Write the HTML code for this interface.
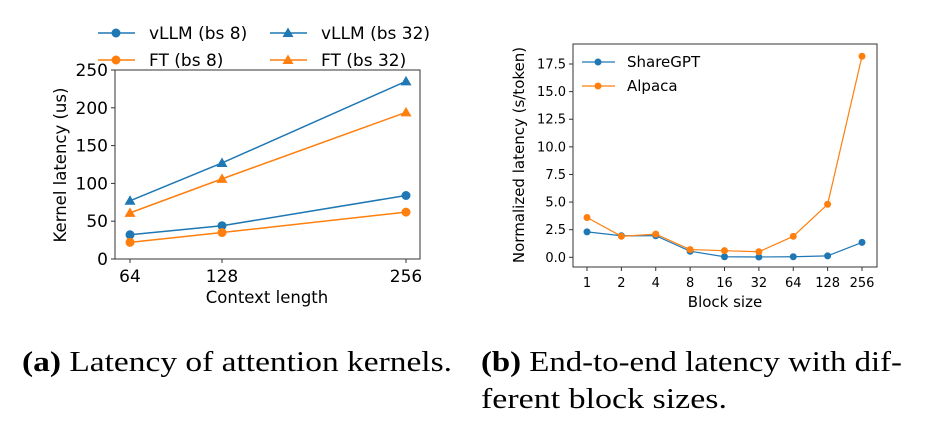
<!DOCTYPE html>
<html><head><meta charset="utf-8"><style>
body{margin:0;background:#fff;}
svg{display:block;}
text{font-family:"DejaVu Sans","Liberation Sans",sans-serif;fill:#000;}
.cap{font-family:"Liberation Serif",serif;font-size:29px;}
</style></head><body>
<svg id="svg" width="925" height="427" viewBox="0 0 925 427"></svg>
<script>
const ctxLen=[64,128,256];
const vllm8=[32,44,84];
const ft8=[22,35,62];
const vllm32=[77,127,235];
const ft32=[61,106,194];
const yTicksA=[0,50,100,150,200,250];
const blockSizes=["1","2","4","8","16","32","64","128","256"];
const shareGPT=[2.3,1.95,1.95,0.55,0.05,0.03,0.05,0.13,1.35];
const alpaca=[3.6,1.9,2.1,0.7,0.6,0.5,1.9,4.8,18.2];
const yTicksB=[0,2.5,5,7.5,10,12.5,15,17.5];

const svg=document.getElementById('svg');
const NS="http://www.w3.org/2000/svg";
function mk(tag,attrs,parent){const e=document.createElementNS(NS,tag);for(const k in attrs)e.setAttribute(k,attrs[k]);(parent||svg).appendChild(e);return e;}
const BLUE="#1f77b4",ORANGE="#ff7f0e";

const gA=mk('g',{});


const axA={l:115,r:420,t:70,b:259};
const xA=v=>130+(v-64)*(276/192);
const yA=v=>axA.b-(v/250)*(axA.b-axA.t);
function marker(g,x,y,shape,c){
  let m;
  if(shape==='o')m=mk('circle',{cx:x,cy:y,r:4.5,fill:c},g);
  else m=mk('polygon',{points:`${x},${y-5.5} ${x-5.5},${y+4} ${x+5.5},${y+4}`,fill:c},g);
  return m;
}
function series(g,xs,ys,xf,yf,c,shape,name){
  const s=mk('g',{},g);
  
  
  const pts=ys.map((v,i)=>xf(xs[i],i)+','+yf(v)).join(' ');
  mk('polyline',{points:pts,fill:'none',stroke:c,'stroke-width':1.5},s);
  ys.forEach((v,i)=>{const m=marker(s,xf(xs[i],i),yf(v),shape,c);});
}
mk('rect',{x:axA.l,y:axA.t,width:axA.r-axA.l,height:axA.b-axA.t,fill:'none',stroke:'#333','stroke-width':1},gA);
yTicksA.forEach(v=>{const y=yA(v);mk('line',{x1:axA.l-4,x2:axA.l,y1:y,y2:y,stroke:'#333'},gA);const t=mk('text',{x:axA.l-7,y:y+6,'text-anchor':'end','font-size':17},gA);t.textContent=v;});
ctxLen.forEach(v=>{const x=xA(v);mk('line',{x1:x,x2:x,y1:axA.b,y2:axA.b+4,stroke:'#333'},gA);const t=mk('text',{x:x,y:282,'text-anchor':'middle','font-size':17},gA);t.textContent=v;});
let t=mk('text',{x:267,y:303,'text-anchor':'middle','font-size':16.5},gA);t.textContent='Context length';


t=mk('text',{x:0,y:0,'text-anchor':'middle','font-size':16.5,transform:'translate(66,165) rotate(-90)'},gA);t.textContent='Kernel latency (us)';


series(gA,ctxLen,vllm8,xA,yA,BLUE,'o','series-vllm-bs8');
series(gA,ctxLen,ft8,xA,yA,ORANGE,'o','series-ft-bs8');
series(gA,ctxLen,vllm32,xA,yA,BLUE,'^','series-vllm-bs32');
series(gA,ctxLen,ft32,xA,yA,ORANGE,'^','series-ft-bs32');
[["vLLM (bs 8)",BLUE,'o',98,33],["FT (bs 8)",ORANGE,'o',98,60],["vLLM (bs 32)",BLUE,'^',270,33],["FT (bs 32)",ORANGE,'^',270,60]].forEach(L=>{
  const g=mk('g',{},gA);
  
  
  mk('line',{x1:L[3],x2:L[3]+37,y1:L[4],y2:L[4],stroke:L[1],'stroke-width':1.5},g);
  marker(g,L[3]+18,L[4],L[2],L[1]);
  const tx=mk('text',{x:L[3]+51,y:L[4]+6,'font-size':17},g);tx.textContent=L[0];
});

const gB=mk('g',{});


const axB={l:573,r:877,t:44,b:267};
const xB=(v,i)=>587+i*((862-587)/8);
const yB=v=>257.3-v*(193.3/17.5);
mk('rect',{x:axB.l,y:axB.t,width:axB.r-axB.l,height:axB.b-axB.t,fill:'none',stroke:'#333','stroke-width':1},gB);
yTicksB.forEach(v=>{const y=yB(v);mk('line',{x1:axB.l-4,x2:axB.l,y1:y,y2:y,stroke:'#333'},gB);const tt=mk('text',{x:axB.l-7,y:y+4.5,'text-anchor':'end','font-size':13},gB);tt.textContent=v.toFixed(1);});
blockSizes.forEach((v,i)=>{const x=xB(v,i);mk('line',{x1:x,x2:x,y1:axB.b,y2:axB.b+4,stroke:'#333'},gB);const tt=mk('text',{x:x,y:287,'text-anchor':'middle','font-size':13},gB);tt.textContent=v;});
t=mk('text',{x:725,y:307,'text-anchor':'middle','font-size':15},gB);t.textContent='Block size';


t=mk('text',{x:0,y:0,'text-anchor':'middle','font-size':15,transform:'translate(524,155) rotate(-90)'},gB);t.textContent='Normalized latency (s/token)';


function seriesB(vals,c,name){
  const s=mk('g',{},gB);
  
  
  mk('polyline',{points:vals.map((v,i)=>xB(0,i)+','+yB(v)).join(' '),fill:'none',stroke:c,'stroke-width':1.2},s);
  vals.forEach((v,i)=>{const m=mk('circle',{cx:xB(0,i),cy:yB(v),r:3.5,fill:c},s);});
}
seriesB(shareGPT,BLUE,'series-sharegpt');
seriesB(alpaca,ORANGE,'series-alpaca');
[["ShareGPT",BLUE,62],["Alpaca",ORANGE,86]].forEach(L=>{
  const g=mk('g',{},gB);
  
  
  mk('line',{x1:582,x2:615,y1:L[2],y2:L[2],stroke:L[1],'stroke-width':1.2},g);
  mk('circle',{cx:598,cy:L[2],r:3.5,fill:L[1]},g);
  const tx=mk('text',{x:627,y:L[2]+5,'font-size':15},g);tx.textContent=L[0];
});
</script>
<svg width="925" height="427" style="position:absolute;left:0;top:0">
<text class="cap" x="22" y="371" textLength="430" lengthAdjust="spacingAndGlyphs"><tspan font-weight="bold">(a)</tspan> Latency of attention kernels.</text>
<text class="cap" x="481" y="371" textLength="421" lengthAdjust="spacingAndGlyphs"><tspan font-weight="bold">(b)</tspan> End-to-end latency with dif-</text>
<text class="cap" x="481" y="408" textLength="246" lengthAdjust="spacingAndGlyphs">ferent block sizes.</text>
</svg>
</body></html>
